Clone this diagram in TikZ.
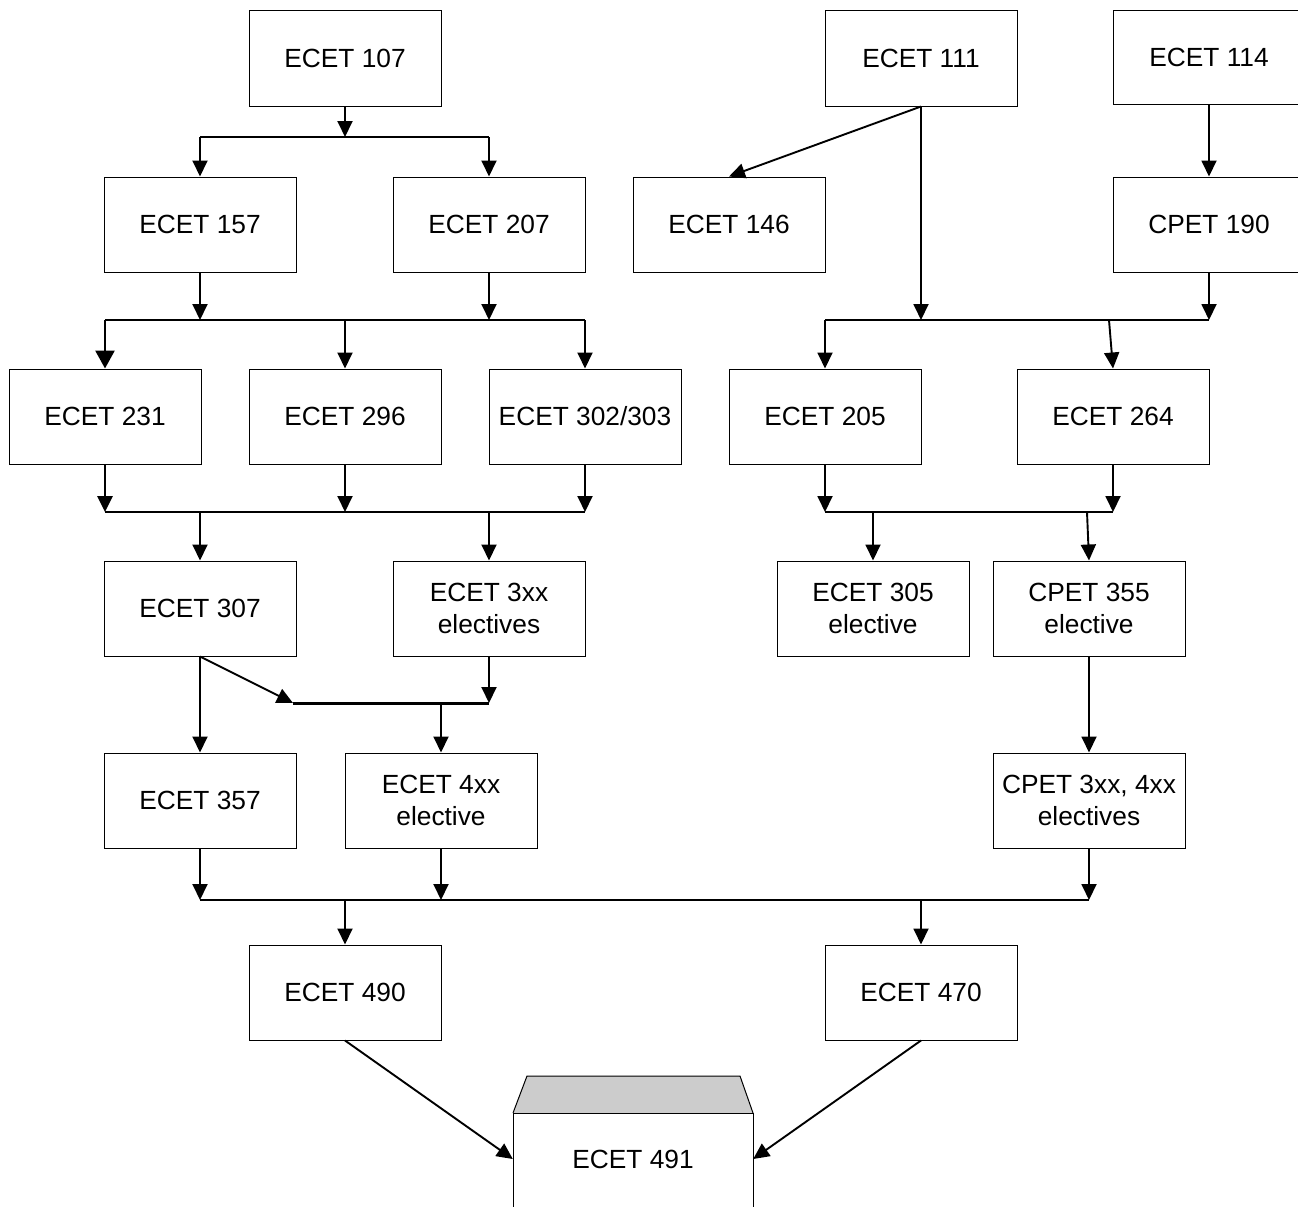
\documentclass[tikz,border=0pt]{standalone}
\usepackage{fontspec}
\setmainfont{Liberation Sans}
\usetikzlibrary{arrows.meta}
\begin{document}
\begin{tikzpicture}[x=1pt,y=-1pt,
  box/.style={draw, line width=1pt, minimum width=192pt, minimum height=95pt, align=center, inner sep=0pt, font=\fontsize{26.3}{32}\selectfont},
  arr/.style={line width=1.9pt, -{Triangle[length=16pt,width=15pt]}},
  bus/.style={line width=1.9pt}]
\useasboundingbox (0,0) rectangle (1298,1207);
% row 1
\node[box] (e107) at (345,58.5) {ECET 107};
\node[box] (e111) at (921,58.5) {ECET 111};
\node[box, minimum height=93pt] (e114) at (1209,57.5) {ECET 114};
% row 2
\node[box] (e157) at (200,224.5) {ECET 157};
\node[box] (e207) at (489,224.5) {ECET 207};
\node[box] (e146) at (729,224.5) {ECET 146};
\node[box] (c190) at (1209,224.5) {CPET 190};
% row 3
\node[box] (e231) at (105,416.5) {ECET 231};
\node[box] (e296) at (345,416.5) {ECET 296};
\node[box] (e302) at (585,416.5) {ECET 302/303};
\node[box] (e205) at (825,416.5) {ECET 205};
\node[box] (e264) at (1113,416.5) {ECET 264};
% row 4
\node[box] (e307) at (200,608.5) {ECET 307};
\node[box] (e3xx) at (489,608.5) {ECET 3xx\\electives};
\node[box] (e305) at (873,608.5) {ECET 305\\elective};
\node[box] (c355) at (1089,608.5) {CPET 355\\elective};
% row 5
\node[box] (e357) at (200,800.5) {ECET 357};
\node[box] (e4xx) at (441,800.5) {ECET 4xx\\elective};
\node[box] (c3xx) at (1089,800.5) {CPET 3xx, 4xx\\electives};
% row 6
\node[box] (e490) at (345,992.5) {ECET 490};
\node[box] (e470) at (921,992.5) {ECET 470};
% final
\node[minimum width=240pt, minimum height=90pt, inner sep=0pt, font=\fontsize{26.3}{32}\selectfont] (e491) at (633,1159) {ECET 491};
\coordinate (t1) at (513,1113);
\coordinate (t2) at (527,1076);
\coordinate (t3) at (740,1076);
\coordinate (t4) at (753,1113);
\fill[black!20] (t1) -- (t2) -- (t3) -- (t4) -- cycle;
\draw[line width=1pt] (t1) -- (t2) -- (t3) -- (t4);
\draw[line width=1pt] (513,1230) -- (t1) -- (t4) -- (753,1230);

% bus coordinates
\coordinate (b1) at (0,137);
\coordinate (b2) at (0,320);
\coordinate (b3) at (0,512);
\coordinate (b4) at (293,703);
\coordinate (b5) at (0,900);

% 107 -> 157, 207
\draw[arr] (e107.south) -- (e107.south |- b1);
\draw[bus] (e157.north |- b1) -- (e207.north |- b1);
\draw[arr] (e157.north |- b1) -- (e157.north);
\draw[arr] (e207.north |- b1) -- (e207.north);

% 157, 207 -> 231, 296, 302
\draw[arr] (e157.south) -- (e157.south |- b2);
\draw[arr] (e207.south) -- (e207.south |- b2);
\draw[bus] (e231.north |- b2) -- (e302.north |- b2);
\draw[line width=2.8pt, -{Triangle[length=18pt,width=19pt]}] (e231.north |- b2) -- (e231.north);
\draw[arr] (e296.north |- b2) -- (e296.north);
\draw[arr] (e302.north |- b2) -- (e302.north);

% 111, 114, 190
\draw[arr] (e111.south) -- (e146.north);
\draw[arr] (e111.south) -- (e111.south |- b2);
\draw[arr] (e114.south) -- (c190.north);
\draw[arr] (c190.south) -- (c190.south |- b2);
\draw[bus] (e205.north |- b2) -- (c190.south |- b2);
\draw[arr] (e205.north |- b2) -- (e205.north);
\draw[arr] ([xshift=-4pt]e264.north |- b2) -- (e264.north);

% row 3 -> row 4 (left)
\draw[line width=2.8pt, -{Triangle[length=16pt,width=15pt]}] (e231.south) -- (e231.south |- b3);
\draw[arr] (e296.south) -- (e296.south |- b3);
\draw[arr] (e302.south) -- (e302.south |- b3);
\draw[bus] (e231.south |- b3) -- (e302.south |- b3);
\draw[arr] (e307.north |- b3) -- (e307.north);
\draw[arr] (e3xx.north |- b3) -- (e3xx.north);

% row 3 -> row 4 (right)
\draw[arr] (e205.south) -- (e205.south |- b3);
\draw[arr] (e264.south) -- (e264.south |- b3);
\draw[bus] (e205.south |- b3) -- (e264.south |- b3);
\draw[arr] (e305.north |- b3) -- (e305.north);
\draw[arr] ([xshift=-2pt]c355.north |- b3) -- (c355.north);

% row 4 -> row 5
\draw[arr] (e307.south) -- (e357.north);
\draw[arr] (e307.south) -- (b4);
\draw[arr] (e3xx.south) -- (e3xx.south |- b4);
\draw[line width=3pt] (b4) -- (e3xx.south |- b4);
\draw[arr] (e4xx.north |- b4) -- (e4xx.north);
\draw[arr] (c355.south) -- (c3xx.north);

% row 5 -> row 6
\draw[arr] (e357.south) -- (e357.south |- b5);
\draw[arr] (e4xx.south) -- (e4xx.south |- b5);
\draw[arr] (c3xx.south) -- (c3xx.south |- b5);
\draw[bus] (e357.south |- b5) -- (c3xx.south |- b5);
\draw[arr] (e490.north |- b5) -- (e490.north);
\draw[arr] (e470.north |- b5) -- (e470.north);

% row 6 -> 491
\draw[arr] (e490.south) -- (e491.west);
\draw[arr] (e470.south) -- (e491.east);
\end{tikzpicture}
\end{document}
